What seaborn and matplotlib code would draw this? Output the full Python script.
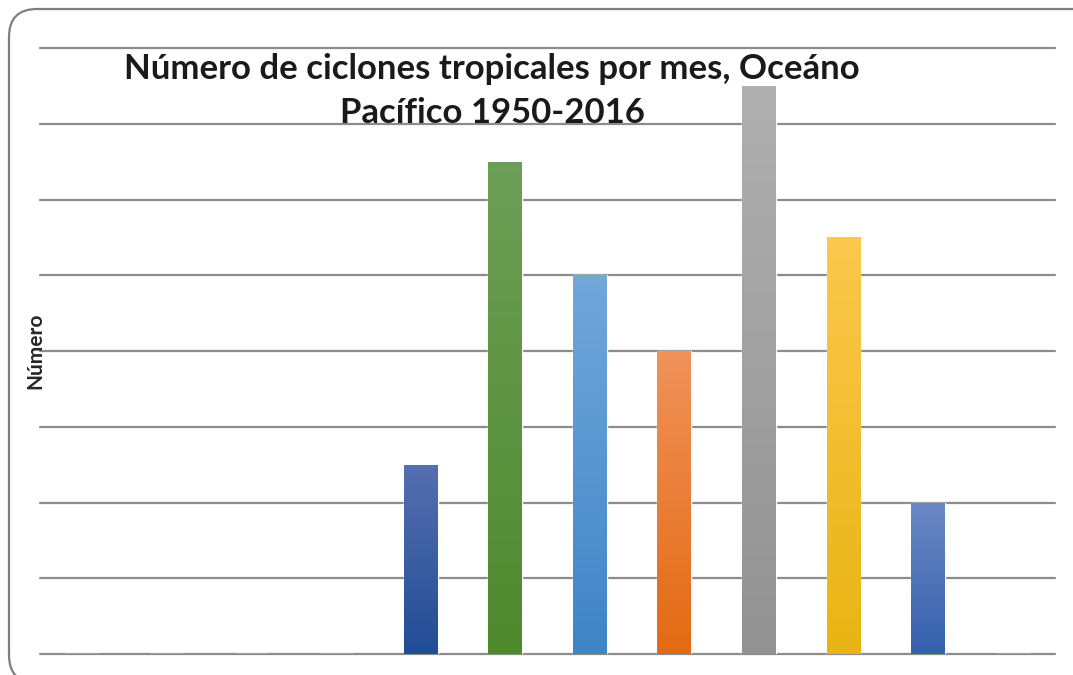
import numpy as np
import pandas as pd
import matplotlib
matplotlib.use("Agg")
import matplotlib.pyplot as plt
import seaborn as sns
from matplotlib.patches import FancyBboxPatch
from matplotlib.colors import LinearSegmentedColormap
from matplotlib.transforms import IdentityTransform

# ---- data ----
months = ["Ene", "Feb", "Mar", "Abr", "May", "Jun", "Jul", "Ago", "Sep", "Oct", "Nov", "Dic"]
values = [0, 0, 0, 0, 2.5, 6.5, 5.0, 4.0, 7.5, 5.5, 2.0, 0]
top_colors = ["#4472C4", "#4472C4", "#4472C4", "#4472C4", "#566fb0", "#6c9f57", "#72a8da",
              "#f0925a", "#b0b0b0", "#fcc84e", "#6a88c4", "#4472C4"]
bottom_colors = ["#4472C4", "#4472C4", "#4472C4", "#4472C4", "#214d96", "#4f892d", "#3f84c7",
                 "#e46a12", "#929292", "#e8b412", "#3560ad", "#4472C4"]
title = "Número de ciclones tropicales por mes, Oceáno\nPacífico 1950-2016"
ylabel = "Número"

df = pd.DataFrame({"mes": months, "valor": values})

W, H = 1073, 675
sns.set_style("white")
plt.rcParams["font.family"] = ["Lato", "DejaVu Sans"]
fig = plt.figure(figsize=(W / 100, H / 100), dpi=100)

# rounded chart border in pixel coordinates (extends beyond right/bottom edges)
border = FancyBboxPatch((9, -8), 1120, H - 9 + 8,
                        boxstyle="round,pad=0,rounding_size=28",
                        transform=IdentityTransform(), facecolor="none",
                        edgecolor="#7f7f7f", linewidth=1.6, zorder=-1)
fig.patches.append(border)

ax = fig.add_axes([40 / W, 1 - 654 / H, (1055 - 40) / W, (654 - 48) / H])
ax.set_facecolor("none")

sns.barplot(data=df, x="mes", y="valor", hue="mes", palette=top_colors,
            width=0.4, legend=False, ax=ax, zorder=3, saturation=1)

ax.set_ylim(0, 8)
ax.set_xlim(-0.5, len(months) - 0.5)
ax.set_yticks(np.arange(0, 9, 1))
ax.yaxis.grid(True, color="#8c8c8c", linewidth=1.6, zorder=0)
ax.set_axisbelow(True)
for gl in ax.get_ygridlines():
    gl.set_clip_on(False)
for s in ax.spines.values():
    s.set_visible(False)
ax.tick_params(left=False, bottom=False, labelleft=False, labelbottom=False)
ax.set_xlabel("")
ax.set_ylabel(ylabel, fontsize=15, fontweight="bold", labelpad=-4)

# vertical gradient fill clipped to each bar
grad = np.linspace(1, 0, 256).reshape(-1, 1)
for patch, tc, bc, v in zip(ax.patches, top_colors, bottom_colors, values):
    if v <= 0:
        continue
    x0, y0 = patch.get_x(), patch.get_y()
    w, h = patch.get_width(), patch.get_height()
    cmap = LinearSegmentedColormap.from_list("g", [bc, tc])
    im = ax.imshow(grad, extent=[x0, x0 + w, y0, y0 + h], cmap=cmap,
                   aspect="auto", origin="upper", zorder=4, vmin=0, vmax=1)
    im.set_clip_path(patch)
ax.set_xlim(-0.5, len(months) - 0.5)
ax.set_ylim(0, 8)

fig.text(492 / W, 1 - 91 / H, title, ha="center", va="center", fontsize=25,
         fontweight="bold", color="#1a1a1a", linespacing=1.45)

fig.savefig("out.png", dpi=100)
